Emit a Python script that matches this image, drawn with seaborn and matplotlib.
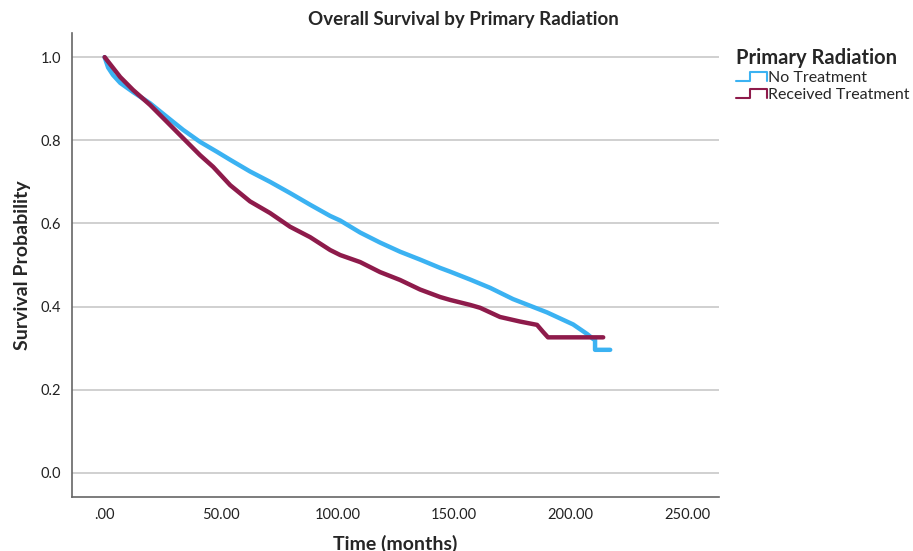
import numpy as np
import pandas as pd
import matplotlib
matplotlib.use("Agg")
import matplotlib.pyplot as plt
from matplotlib.lines import Line2D
from matplotlib.legend_handler import HandlerBase
import seaborn as sns

# ---- data ----
no_treat_time = [0.0, 1.5, 3.6, 6.7, 12.2, 19.5, 26.8, 33.7, 41.0, 48.3, 53.9, 62.4, 71.0,
                 79.6, 88.2, 96.8, 101.1, 109.7, 118.2, 126.8, 135.4, 144.0, 148.3,
                 156.9, 165.5, 175.3, 189.9, 201.1, 207.1, 209.7, 210.5, 210.5, 217.0]
no_treat_surv = [1.000, 0.975, 0.957, 0.938, 0.916, 0.889, 0.856, 0.825, 0.796, 0.772, 0.753,
                 0.725, 0.700, 0.673, 0.645, 0.618, 0.607, 0.578, 0.554, 0.532, 0.513,
                 0.493, 0.484, 0.465, 0.445, 0.418, 0.386, 0.357, 0.334, 0.322, 0.322,
                 0.296, 0.296]

rec_treat_time = [0.0, 6.7, 12.2, 19.5, 26.8, 33.7, 41.0, 46.6, 53.9, 62.4, 71.0, 79.6,
                  88.2, 96.8, 101.1, 109.7, 118.2, 126.8, 135.4, 144.0, 148.3, 156.9,
                  161.2, 169.7, 178.3, 185.6, 188.2, 190.3, 214.0]
rec_treat_surv = [1.000, 0.952, 0.921, 0.885, 0.844, 0.805, 0.764, 0.736, 0.692, 0.653,
                  0.625, 0.592, 0.567, 0.536, 0.524, 0.507, 0.483, 0.464, 0.441, 0.423,
                  0.416, 0.404, 0.397, 0.375, 0.364, 0.356, 0.339, 0.326, 0.326]

groups = ["No Treatment", "Received Treatment"]
colors = ["#3BB2F2", "#8E1B4B"]

x_ticks = [0, 50, 100, 150, 200, 250]
x_tick_labels = [".00", "50.00", "100.00", "150.00", "200.00", "250.00"]
y_ticks = [0.0, 0.2, 0.4, 0.6, 0.8, 1.0]
y_tick_labels = ["0.0", "0.2", "0.4", "0.6", "0.8", "1.0"]

df = pd.concat([
    pd.DataFrame({"Time": no_treat_time, "Survival": no_treat_surv, "Group": groups[0]}),
    pd.DataFrame({"Time": rec_treat_time, "Survival": rec_treat_surv, "Group": groups[1]}),
], ignore_index=True)

sns.set_theme(style="white")
plt.rcParams["font.family"] = ["Lato", "DejaVu Sans"]

fig = plt.figure(figsize=(9.13, 5.51), dpi=100)
ax = fig.add_axes([72/913, 1-497/551, (719-72)/913, (497-33)/551])

for g, c in zip(groups, colors):
    sub = df[df["Group"] == g]
    sns.lineplot(data=sub, x="Time", y="Survival", estimator=None, sort=False,
                 color=c, linewidth=3.2, ax=ax, legend=False, zorder=3)

ax.set_xlim(-14, 263.7)
ax.set_ylim(-0.058, 1.058)
ax.set_xticks(x_ticks)
ax.set_xticklabels(x_tick_labels)
ax.set_yticks(y_ticks)
ax.set_yticklabels(y_tick_labels)
ax.tick_params(axis="both", length=0, labelsize=10.5, colors="#222222", pad=8)
ax.yaxis.grid(True, color="#c8c8c8", linewidth=1.2)
ax.xaxis.grid(False)
for s in ["top", "right"]:
    ax.spines[s].set_visible(False)
for s in ["left", "bottom"]:
    ax.spines[s].set_color("#666666")
    ax.spines[s].set_linewidth(1.2)

ax.set_xlabel("Time (months)", fontsize=14, fontweight="bold", labelpad=9)
ax.set_ylabel("Survival Probability", fontsize=14, fontweight="bold", labelpad=7)
fig.suptitle("Overall Survival by Primary Radiation", fontsize=13.5, fontweight="bold",
             x=463/913, y=1-11/551, va="top")


class StepHandler(HandlerBase):
    def create_artists(self, legend, orig_handle, xdescent, ydescent, width, height,
                       fontsize, trans):
        x0 = -xdescent
        y0 = -ydescent
        xs = [x0, x0 + width*0.45, x0 + width*0.45, x0 + width, x0 + width]
        ys = [y0 + height*0.05, y0 + height*0.05, y0 + height*0.85, y0 + height*0.85,
              y0 + height*0.05]
        ln = Line2D(xs, ys, color=orig_handle.get_color(), linewidth=1.5)
        ln.set_transform(trans)
        return [ln]


handles = [Line2D([0], [0], color=c) for c in colors]
leg = fig.legend(handles, groups, loc="upper left", bbox_to_anchor=(722/913, 1-34/551),
                 frameon=False, title="Primary Radiation",
                 handler_map={Line2D: StepHandler()}, handlelength=1.9,
                 handletextpad=0.1, labelspacing=0.15, fontsize=11.5)
leg.get_title().set_fontweight("bold")
leg.get_title().set_fontsize(14.5)
leg._legend_box.align = "left"

fig.savefig("out.png", dpi=100)
